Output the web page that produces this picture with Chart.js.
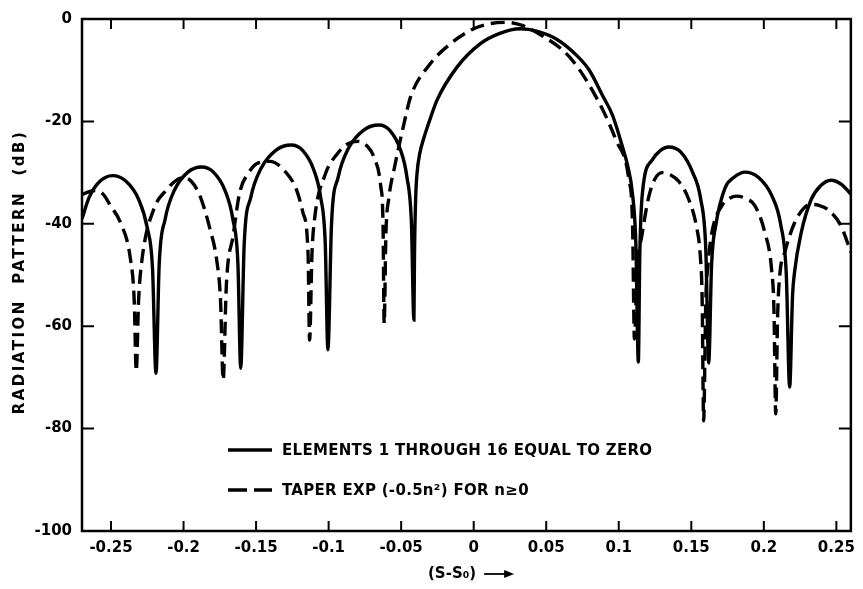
<!DOCTYPE html>
<html>
<head>
<meta charset="utf-8">
<script src="https://cdn.jsdelivr.net/npm/chart.js@4/dist/chart.umd.min.js"></script>
<style>
  html, body { margin: 0; padding: 0; background: #fff; }
  #wrap { width: 863px; height: 589px; }
</style>
</head>
<body>
<div id="wrap"><canvas id="c" width="863" height="589"></canvas></div>
<script>
// ---- data ----
const seriesLabels = ['ELEMENTS 1 THROUGH 16 EQUAL TO ZERO', 'TAPER EXP (-0.5n\u00B2) FOR n\u22650'];

const solidX = [-0.27,-0.265,-0.258,-0.249,-0.240,-0.231,-0.225,-0.2214,-0.219,
  -0.2168,-0.2127,-0.2064,-0.1970,-0.1875,-0.1794,-0.1714,-0.1660,-0.1625,-0.1606,
  -0.1582,-0.1536,-0.1466,-0.1362,-0.1257,-0.1181,-0.1106,-0.1055,-0.1023,-0.1005,
  -0.0980,-0.0934,-0.0864,-0.0758,-0.0652,-0.0580,-0.0508,-0.0460,-0.0429,-0.0412,
  -0.0408,-0.0400,-0.0390,-0.0372,-0.0344,-0.0300,-0.0252,-0.0115,0.0044,0.018,0.032,0.044,0.0569,0.0706,0.0797,0.0889,0.0957,0.1026,0.106,0.1094,0.1118,0.1135,
  0.1145,0.1163,0.1231,0.1282,0.1345,0.1428,0.151,0.1565,0.1600,0.162,
  0.164,0.167,0.1733,0.1795,0.187,0.1962,0.2055,0.2116,0.2155,0.2178,
  0.2198,0.2212,0.2258,0.2327,0.239,0.2464,0.2535,0.26];
const solidDb = [-39,-34.8,-31.8,-30.6,-31.6,-35.2,-40.8,-48.6,-69.2,
  -48,-39.1,-33.5,-29.9,-28.9,-29.9,-33.5,-39.1,-48,-68.2,
  -44,-34.8,-29.2,-25.6,-24.6,-25.6,-29.2,-34.8,-44,-64.6,
  -40,-30.9,-25.3,-21.7,-20.7,-21.7,-25.3,-30.9,-40,-58.8,
  -46,-35,-30,-26.3,-23.3,-19.5,-15.8,-9.4,-4.85,-2.8,-1.9,-2.4,-3.9,-7.0,-10,-15,-18.8,-25,-28.5,-34,-44,-67,
  -46,-34,-27.5,-25.8,-25.0,-26.0,-30,-35.2,-45,-67.2,
  -47.9,-40.1,-33,-30.9,-29.9,-30.9,-34.5,-40.1,-50,-71.9,
  -54,-49.4,-41.7,-35.2,-32.6,-31.5,-32.3,-34.2];

const dashedX = [-0.27,-0.265,-0.261,-0.2555,-0.2503,-0.2434,-0.2366,-0.234,-0.2326,
  -0.231,-0.2286,-0.2206,-0.2115,-0.2055,-0.200,-0.1950,-0.1886,-0.1818,-0.1772,-0.1745,-0.1727,
  -0.1705,-0.1658,-0.1613,-0.1553,-0.1485,-0.1405,-0.1302,-0.1222,-0.1177,-0.1142,-0.1131,
  -0.1115,-0.1097,-0.1028,-0.0937,-0.087,-0.080,-0.0735,-0.0686,-0.0641,-0.0625,-0.0617,
  -0.0605,-0.0585,-0.0549,-0.048,-0.0435,-0.0298,-0.0161,0,0.0115,0.0227,0.034,0.045,0.066,0.0843,0.098,0.107,0.1095,0.1108,
  0.1125,0.1163,0.1208,0.125,0.13,0.1355,0.1413,0.1482,0.1539,0.1562,0.1575,0.1585,
  0.16,0.1615,0.1642,0.171,0.1765,0.1813,0.187,0.1939,0.2007,0.2053,0.207,0.2082,
  0.2095,0.211,0.2144,0.2212,0.2281,0.2327,0.238,0.244,0.2532,0.26];
const dashedDb = [-34.3,-33.7,-33.5,-34.2,-36.5,-39.8,-46.9,-55,-68.8,
  -55,-46.9,-37.2,-33.3,-31.6,-31.0,-31.6,-34.6,-41,-47,-55,-70.5,
  -52,-42.3,-33.9,-30.1,-28.1,-27.8,-29.7,-33.3,-37.8,-45.6,-62.7,
  -46,-39.1,-30.7,-26.2,-24.4,-23.9,-24.8,-27.1,-32.6,-40,-59.5,
  -42,-35,-29.4,-20.4,-15.2,-8.7,-4.85,-1.9,-0.9,-0.65,-1.3,-2.9,-7.4,-15.2,-23.6,-31.4,-40,-62.5,
  -50,-41.7,-34.6,-31.2,-30,-30.4,-31.7,-35.2,-41,-46.2,-55,-78.5,
  -55,-48,-41.7,-36.5,-35.0,-34.6,-35.0,-36.5,-41.7,-48.8,-57,-77.1,
  -58,-50,-45.6,-39.8,-36.8,-36.2,-36.4,-37.2,-40.4,-45.6];

const xTickValues = [-0.25,-0.2,-0.15,-0.1,-0.05,0,0.05,0.1,0.15,0.2,0.25];
const xTickLabels = ['-0.25','-0.2','-0.15','-0.1','-0.05','0','0.05','0.1','0.15','0.2','0.25'];
const yTickValues = [0,-20,-40,-60,-80,-100];
const xTitle = '(S-S\u2080)';
const yTitle = 'RADIATION  PATTERN  (dB)';

// ---- chart ----
const FONT = '"DejaVu Sans", sans-serif';
const toPts = (xs, ys) => xs.map((x, i) => ({ x: x, y: ys[i] }));

const decor = {
  id: 'decor',
  afterDraw(chart) {
    const ctx = chart.ctx, a = chart.chartArea;
    const xs = chart.scales.x, ys = chart.scales.y;
    ctx.save();
    ctx.strokeStyle = '#000';
    ctx.lineWidth = 2.5;
    ctx.strokeRect(a.left, a.top, a.right - a.left, a.bottom - a.top);
    // inward ticks on all four sides
    ctx.lineWidth = 2;
    ctx.beginPath();
    xTickValues.forEach(v => {
      const px = xs.getPixelForValue(v);
      ctx.moveTo(px, a.bottom); ctx.lineTo(px, a.bottom - 10);
      ctx.moveTo(px, a.top); ctx.lineTo(px, a.top + 10);
    });
    yTickValues.forEach(v => {
      const py = ys.getPixelForValue(v);
      ctx.moveTo(a.left, py); ctx.lineTo(a.left + 12, py);
      ctx.moveTo(a.right, py); ctx.lineTo(a.right - 12, py);
    });
    ctx.stroke();

    // legend inside plot
    ctx.fillStyle = '#000';
    ctx.font = 'bold 15px ' + FONT;
    ctx.textBaseline = 'middle';
    ctx.textAlign = 'left';
    ctx.letterSpacing = '0.3px';
    const rows = [450, 490];
    chart.data.datasets.forEach((ds, i) => {
      const y = rows[i];
      ctx.beginPath();
      ctx.lineWidth = 3.5;
      ctx.setLineDash(i === 0 ? [] : [19, 7]);
      ctx.moveTo(228, y); ctx.lineTo(272, y);
      ctx.stroke();
      ctx.setLineDash([]);
      ctx.fillText(ds.label, 282, y + 1);
    });
    ctx.letterSpacing = '0px';

    // x title with arrow
    ctx.font = 'bold 15px ' + FONT;
    ctx.textAlign = 'left';
    ctx.fillText(xTitle, 428, 574);
    const tw = ctx.measureText(xTitle).width;
    const ax0 = 428 + tw + 8, ax1 = ax0 + 30;
    ctx.lineWidth = 1.8;
    ctx.beginPath(); ctx.moveTo(ax0, 574); ctx.lineTo(ax1 - 6, 574); ctx.stroke();
    ctx.beginPath(); ctx.moveTo(ax1, 574); ctx.lineTo(ax1 - 10, 570); ctx.lineTo(ax1 - 10, 578); ctx.closePath(); ctx.fill();

    // y title rotated
    ctx.save();
    ctx.translate(20, 272);
    ctx.rotate(-Math.PI / 2);
    ctx.font = 'bold 15px ' + FONT;
    ctx.textAlign = 'center';
    ctx.letterSpacing = '2.5px';
    ctx.fillText(yTitle, 0, 0);
    ctx.restore();
    ctx.restore();
  }
};

new Chart(document.getElementById('c'), {
  type: 'line',
  data: {
    datasets: [
      { label: seriesLabels[0], data: toPts(solidX, solidDb), borderColor: '#000', borderWidth: 3.4,
        pointRadius: 0, fill: false, cubicInterpolationMode: 'monotone' },
      { label: seriesLabels[1], data: toPts(dashedX, dashedDb), borderColor: '#000', borderWidth: 3.4,
        borderDash: [14, 7], pointRadius: 0, fill: false, cubicInterpolationMode: 'monotone' }
    ]
  },
  options: {
    responsive: false,
    animation: false,
    devicePixelRatio: 1,
    layout: { padding: { top: 15, right: 7, left: 0, bottom: 0 } },
    plugins: { legend: { display: false }, tooltip: { enabled: false } },
    scales: {
      x: {
        type: 'linear', min: -0.27, max: 0.26,
        grid: { display: false, drawTicks: false },
        border: { display: false },
        afterBuildTicks: s => { s.ticks = xTickValues.map(v => ({ value: v })); },
        afterFit: s => { s.height = 589 - 531; },
        ticks: {
          padding: 8, color: '#000', maxRotation: 0, autoSkip: false,
          font: { family: FONT, size: 15, weight: 'bold' },
          callback: (v) => { const i = xTickValues.findIndex(t => Math.abs(t - v) < 1e-9); return i >= 0 ? xTickLabels[i] : ''; }
        }
      },
      y: {
        type: 'linear', min: -100, max: 0,
        grid: { display: false, drawTicks: false },
        border: { display: false },
        afterBuildTicks: s => { s.ticks = yTickValues.map(v => ({ value: v })); },
        afterFit: s => { s.width = 82; },
        ticks: {
          padding: 10, color: '#000',
          font: { family: FONT, size: 15, weight: 'bold' }
        }
      }
    }
  },
  plugins: [decor]
});
</script>
</body>
</html>
